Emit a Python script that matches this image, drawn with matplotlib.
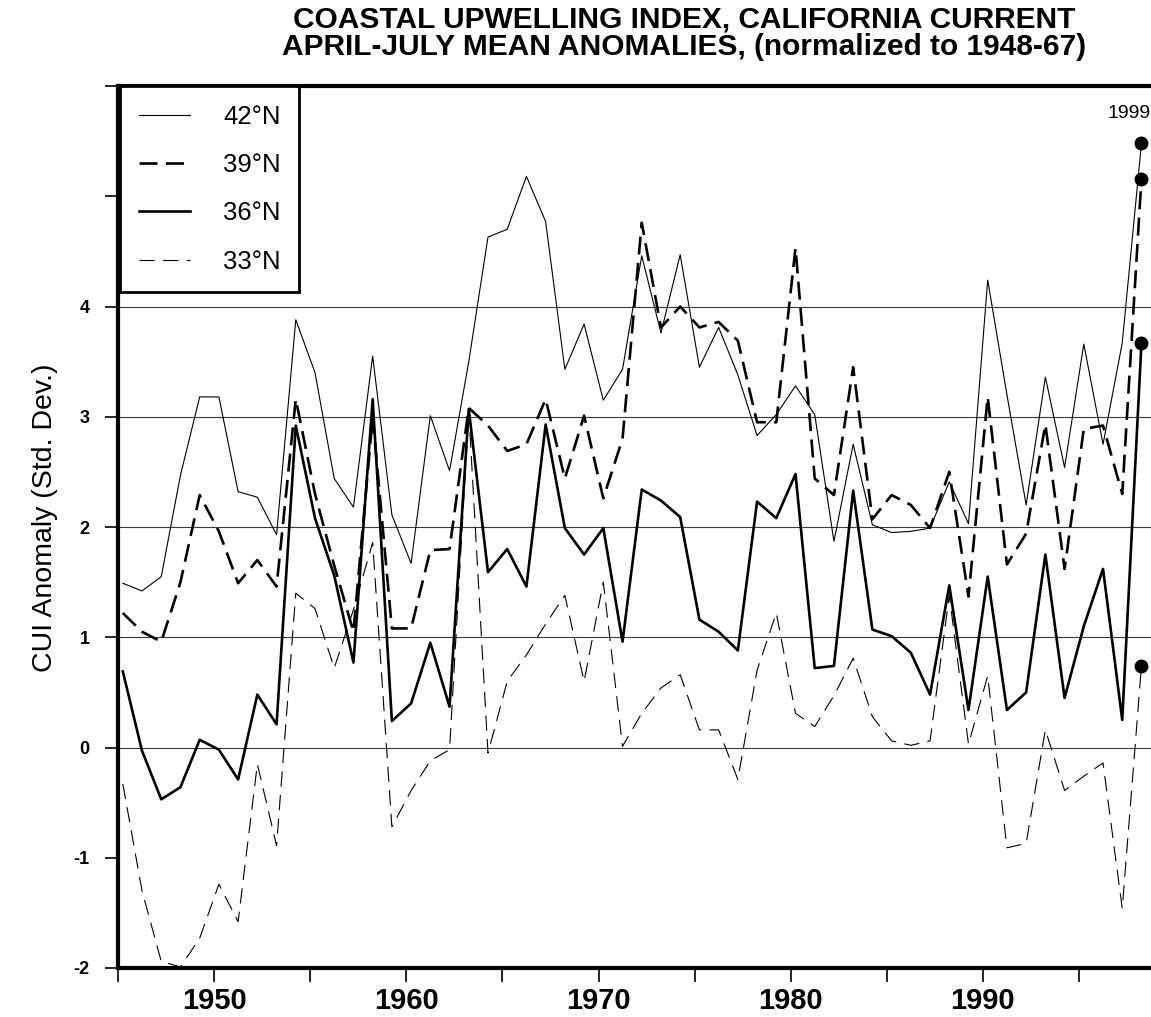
import numpy as np
import matplotlib
matplotlib.use('Agg')
import matplotlib.pyplot as plt
import matplotlib.transforms as mtransforms

# April-July mean upwelling anomalies (std. dev.), 1946-1999
years = np.arange(1946, 2000)

cui_42n = [1.49, 1.42, 1.55, 2.47, 3.18, 3.18, 2.32, 2.27, 1.93, 3.88,
           3.40, 2.44, 2.18, 3.55, 2.11, 1.67, 3.01, 2.51, 3.50, 4.63,
           4.70, 5.18, 4.77, 3.43, 3.84, 3.15, 3.43, 4.46, 3.76, 4.47,
           3.45, 3.81, 3.38, 2.83, 3.02, 3.28, 3.02, 1.87, 2.75, 2.02,
           1.95, 1.96, 1.99, 2.41, 2.03, 4.24, 3.20, 2.20, 3.36, 2.54,
           3.66, 2.75, 3.67, 5.48]
cui_39n = [1.22, 1.05, 0.96, 1.50, 2.29, 1.96, 1.49, 1.70, 1.46, 3.16,
           2.30, 1.65, 1.05, 3.00, 1.08, 1.08, 1.79, 1.80, 3.08, 2.92,
           2.69, 2.75, 3.16, 2.44, 3.01, 2.26, 2.80, 4.76, 3.81, 4.00,
           3.81, 3.86, 3.69, 2.95, 2.95, 4.53, 2.44, 2.29, 3.45, 2.07,
           2.29, 2.20, 1.99, 2.50, 1.37, 3.18, 1.66, 1.94, 2.93, 1.62,
           2.89, 2.92, 2.30, 5.16]
cui_36n = [0.69, -0.03, -0.47, -0.36, 0.07, -0.02, -0.29, 0.48, 0.21, 2.92,
           2.08, 1.56, 0.77, 3.16, 0.24, 0.40, 0.95, 0.37, 3.07, 1.59,
           1.80, 1.46, 2.93, 1.99, 1.75, 1.99, 0.96, 2.34, 2.24, 2.09,
           1.16, 1.05, 0.88, 2.23, 2.08, 2.48, 0.72, 0.74, 2.33, 1.07,
           1.01, 0.86, 0.48, 1.47, 0.34, 1.55, 0.34, 0.50, 1.75, 0.45,
           1.10, 1.62, 0.25, 3.67]
cui_33n = [-0.33, -1.30, -1.94, -1.99, -1.73, -1.24, -1.58, -0.15, -0.89, 1.40,
           1.26, 0.72, 1.25, 1.86, -0.72, -0.39, -0.12, -0.02, 3.05, -0.05,
           0.60, 0.84, 1.12, 1.38, 0.60, 1.50, 0.01, 0.31, 0.54, 0.66,
           0.16, 0.16, -0.29, 0.70, 1.22, 0.31, 0.19, 0.47, 0.81, 0.28,
           0.06, 0.02, 0.06, 1.38, 0.03, 0.65, -0.91, -0.87, 0.16, -0.39,
           -0.26, -0.14, -1.46, 0.74]

labels = ['42°N', '39°N', '36°N', '33°N']
xticks = list(range(1945, 2000, 5))
xticklabels = [str(t) if t % 10 == 0 else '' for t in xticks]
yticks = list(range(-2, 7))
yticklabels = [str(t) if t <= 4 else '' for t in yticks]

plt.rcParams['font.family'] = ['Liberation Sans', 'DejaVu Sans']
plt.rcParams['lines.scale_dashes'] = False

fig = plt.figure(figsize=(11.51, 10.17), dpi=100)
ax = fig.add_axes([118 / 1151, 1 - 968 / 1017, 1 - 118 / 1151, 882 / 1017])

# each year's value is drawn a little ahead of its tick mark
x = years - 0.75

for lvl in range(0, 5):
    ax.axhline(lvl, color='#3a3a3a', lw=0.8, zorder=1)

ax.plot(x, cui_42n, color='black', lw=0.8, label=labels[0], zorder=3)
ax.plot(x, cui_39n, color='black', lw=1.9, dashes=(13, 6), label=labels[1], zorder=3)
ax.plot(x, cui_36n, color='black', lw=1.9, label=labels[2], zorder=3)
ax.plot(x, cui_33n, color='black', lw=0.8, dashes=(11, 6), label=labels[3], zorder=3)

# 1999 values marked with dots
for s in (cui_42n, cui_39n, cui_36n, cui_33n):
    ax.plot(x[-1], s[-1], 'o', color='black', ms=9, zorder=4, clip_on=False)

trans = mtransforms.blended_transform_factory(ax.transAxes, ax.transData)
ax.text(1.0, 5.75, str(years[-1]), transform=trans, ha='right', va='center',
        fontsize=14)

ax.set_xlim(1945, 1945 + 1033 / 19.22)
ax.set_ylim(-2, 6)
ax.set_xticks(xticks)
ax.set_xticklabels(xticklabels, fontsize=21, fontweight='bold')
ax.set_yticks(yticks)
ax.set_yticklabels(yticklabels, fontsize=13, fontweight='bold')
ax.tick_params(axis='x', direction='out', length=10, width=1.2, pad=4)
ax.tick_params(axis='y', direction='out', length=9.5, width=1.2, pad=11)

for side in ('left', 'bottom', 'top'):
    ax.spines[side].set_linewidth(3)
ax.spines['right'].set_visible(False)

ax.set_ylabel('CUI Anomaly (Std. Dev.)', fontsize=20.5)
ax.yaxis.set_label_coords(-0.058, 0.51)

fig.text(684 / 1151, 1 - 33 / 1017,
         'COASTAL UPWELLING INDEX, CALIFORNIA CURRENT\n'
         'APRIL-JULY MEAN ANOMALIES, (normalized to 1948-67)',
         ha='center', va='center', fontsize=21.5, fontweight='bold',
         linespacing=1.0)

leg = ax.legend(loc='upper left', bbox_to_anchor=(0.002, 1.0), borderaxespad=0,
                fontsize=18.5, handlelength=2.0, handletextpad=1.3, labelspacing=0.95,
                borderpad=0.72, fancybox=False, framealpha=1, edgecolor='black')
leg.get_frame().set_linewidth(2)

fig.savefig('out.png', dpi=100)
